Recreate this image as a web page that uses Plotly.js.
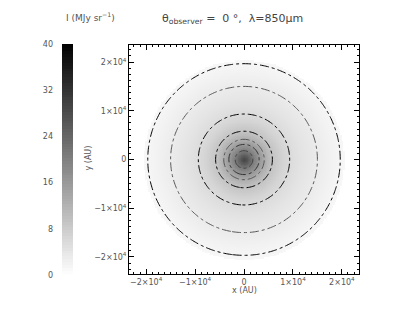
<!DOCTYPE html>
<html>
<head>
<meta charset="utf-8">
<script src="https://cdn.plot.ly/plotly-3.0.1.min.js"></script>
<style>
  html, body { margin: 0; padding: 0; background: white; }
  #grafico { width: 402px; height: 311px; }
</style>
</head>
<body>
<div id="grafico"></div>
<script>
// Perfil radial (AU -> MJy/sr)
const radioAU = [0, 500, 1000, 1500, 2000, 3000, 4000, 5000, 6000, 8000, 10000, 12000, 15000, 18000, 20000, 20500];
const intensidad = [29, 27.5, 25, 22.5, 20, 16.5, 13.3, 11, 9, 6.7, 5.2, 4.2, 3.1, 2.0, 1.4, 1.2];

// Niveles de contorno y su color
const nivelesContorno = [1.5, 3.1, 5.7, 9.4, 13, 16.2, 21];
const coloresContorno = ['#000000', '#555555', '#000000', '#000000', '#555555', '#333333', '#444444'];

// Ejes
const ticksPos = [-20000, -10000, 0, 10000, 20000];
const ticksTexto = ['\u22122\u00d710<sup>4</sup>', '\u22121\u00d710<sup>4</sup>', '0', '1\u00d710<sup>4</sup>', '2\u00d710<sup>4</sup>'];
const ticksBarra = [0, 8, 16, 24, 32, 40];

// Rejilla del mapa
const paso = 300;
const limite = 24000;
const coords = [];
for (let v = -limite; v <= limite; v += paso) coords.push(v);

function valorEnRadio(r) {
    if (r > radioAU[radioAU.length - 1]) return null;
    for (let i = 1; i < radioAU.length; i++) {
        if (r <= radioAU[i]) {
            const t = (r - radioAU[i - 1]) / (radioAU[i] - radioAU[i - 1]);
            return intensidad[i - 1] + t * (intensidad[i] - intensidad[i - 1]);
        }
    }
    return null;
}

const z = coords.map(y => coords.map(x => valorEnRadio(Math.sqrt(x * x + y * y))));

const escalaGris = [[0, '#ffffff'], [1, '#000000']];

const mapa = {
    type: 'heatmap', x: coords, y: coords, z: z,
    colorscale: escalaGris, zmin: 0, zmax: 40, zsmooth: 'best',
    showscale: false, hoverinfo: 'skip'
};

const contornos = nivelesContorno.map((nivel, i) => ({
    type: 'contour', x: coords, y: coords, z: z,
    autocontour: false,
    contours: { start: nivel, end: nivel, size: 1, coloring: 'none' },
    line: { color: coloresContorno[i], width: 1, dash: 'dashdot' },
    showscale: false, hoverinfo: 'skip'
}));

// Barra de color dibujada como un heatmap vertical
const valoresBarra = [];
for (let v = 0; v <= 40; v += 0.5) valoresBarra.push(v);
const barra = {
    type: 'heatmap', xaxis: 'x2', yaxis: 'y2',
    x: [0], y: valoresBarra, z: valoresBarra.map(v => [v]),
    colorscale: escalaGris, zmin: 0, zmax: 40,
    showscale: false, hoverinfo: 'skip'
};

const fuente = { family: 'DejaVu Sans, sans-serif', size: 8, color: '#555' };

const ejeComun = {
    range: [-23500, 23500],
    tickvals: ticksPos, ticktext: ticksTexto,
    ticks: 'inside', ticklen: 5, tickcolor: '#000',
    minor: { dtick: 1250, ticks: 'inside', ticklen: 2, tickcolor: '#000' },
    showline: true, linecolor: '#000', linewidth: 1, mirror: 'allticks',
    showgrid: false, zeroline: false, tickfont: fuente
};

const layout = {
    width: 402, height: 311,
    margin: { l: 0, r: 0, t: 0, b: 0 },
    paper_bgcolor: 'white', plot_bgcolor: 'white',
    showlegend: false,
    xaxis: Object.assign({}, ejeComun, { domain: [129 / 402, 359 / 402], anchor: 'y' }),
    yaxis: Object.assign({}, ejeComun, { domain: [37 / 311, 266 / 311], anchor: 'x' }),
    xaxis2: { domain: [62 / 402, 73 / 402], anchor: 'y2', visible: false },
    yaxis2: {
        domain: [36 / 311, 267 / 311], anchor: 'x2', side: 'left',
        range: [0, 40], tickvals: ticksBarra, ticks: '',
        showline: false, showgrid: false, zeroline: false,
        tickfont: fuente, ticklabelstandoff: 8
    },
    annotations: [
        { text: '\u03b8<sub>observer</sub> =  0 \u00b0,  \u03bb=850\u03bcm', x: 232 / 402, y: 1 - 10 / 311,
          xref: 'paper', yref: 'paper', showarrow: false, font: { family: 'DejaVu Sans, sans-serif', size: 11, color: '#444' } },
        { text: 'I (MJy sr<sup>\u22121</sup>)', x: 64 / 402, y: 1 - 9 / 311,
          xref: 'paper', yref: 'paper', showarrow: false, font: { family: 'DejaVu Sans, sans-serif', size: 9, color: '#555' } },
        { text: 'y (AU)', x: 81 / 402, y: 1 - 158 / 311, textangle: -90,
          xref: 'paper', yref: 'paper', showarrow: false, font: fuente },
        { text: 'x (AU)', x: 244 / 402, y: 1 - 297 / 311,
          xref: 'paper', yref: 'paper', showarrow: false, font: fuente }
    ]
};

Plotly.newPlot('grafico', [mapa].concat(contornos, [barra]), layout, { staticPlot: true, displayModeBar: false });
</script>
</body>
</html>
